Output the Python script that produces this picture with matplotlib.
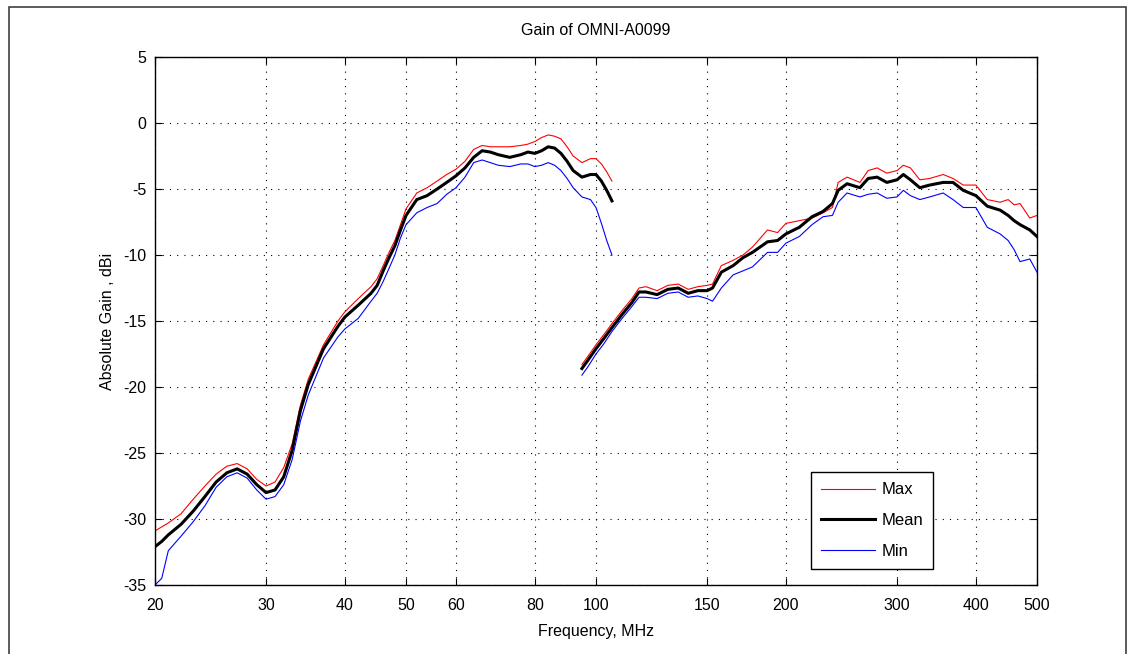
import matplotlib
matplotlib.use("Agg")
import matplotlib.pyplot as plt
from matplotlib.patches import Rectangle
from matplotlib.ticker import FixedLocator, NullLocator

plt.rcParams["font.family"] = ["Liberation Sans", "DejaVu Sans"]
plt.rcParams["axes.unicode_minus"] = False

# lower band (20 - 106 MHz)
freq_lo = [20, 20.5, 21, 22, 23, 24, 25, 26, 27, 28, 29, 30, 31, 32, 33, 34, 35, 37, 39,
           40, 42, 44, 45, 46, 47, 48, 49, 50, 52, 54, 56, 58, 60, 62, 64, 66, 68, 70,
           73, 76, 78, 80, 82, 84, 86, 88, 90, 92, 95, 98, 100, 102, 104, 106]
max_lo = [-30.9, -30.6, -30.3, -29.6, -28.5, -27.5, -26.6, -26.0, -25.8, -26.2, -27.0, -27.5,
          -27.2, -26.1, -24.3, -21.4, -19.4, -16.8, -15.0, -14.3, -13.3, -12.4, -11.8, -10.8,
          -9.8, -8.9, -7.7, -6.5, -5.3, -4.9, -4.4, -3.9, -3.5, -2.9, -2.0, -1.7, -1.8, -1.8,
          -1.8, -1.7, -1.6, -1.4, -1.1, -0.9, -1.0, -1.2, -1.8, -2.5, -3.0, -2.7, -2.7, -3.1,
          -3.7, -4.4]
mean_lo = [-32.1, -31.7, -31.2, -30.4, -29.4, -28.3, -27.2, -26.5, -26.2, -26.6, -27.4, -28.0,
           -27.8, -26.8, -24.8, -21.8, -19.8, -17.1, -15.4, -14.7, -13.8, -12.9, -12.3, -11.2,
           -10.2, -9.3, -8.1, -7.0, -5.8, -5.5, -5.0, -4.5, -4.0, -3.4, -2.6, -2.1, -2.2, -2.4,
           -2.6, -2.4, -2.2, -2.3, -2.1, -1.8, -1.9, -2.3, -2.9, -3.6, -4.1, -3.9, -3.9, -4.4,
           -5.1, -5.9]
min_lo = [-35.0, -34.5, -32.4, -31.3, -30.2, -29.0, -27.6, -26.8, -26.5, -26.9, -27.8, -28.5,
          -28.3, -27.4, -25.5, -22.6, -20.6, -17.8, -16.2, -15.6, -14.8, -13.5, -12.9, -12.0,
          -11.0, -10.0, -8.7, -7.7, -6.8, -6.4, -6.1, -5.4, -4.9, -4.1, -3.0, -2.8, -3.0, -3.2,
          -3.3, -3.1, -3.1, -3.3, -3.2, -3.0, -3.2, -3.6, -4.2, -4.9, -5.6, -5.8, -6.4, -7.6,
          -8.9, -10.0]

# upper band (95 - 500 MHz)
freq_hi = [95, 97, 100, 103, 106, 110, 114, 117, 120, 125, 130, 135, 140, 145, 150, 153, 158,
           165, 171, 177, 187, 194, 200, 210, 220, 229, 237, 242, 250, 262, 270, 279, 289, 300,
           307, 315, 326, 338, 355, 368, 382, 400, 417, 437, 450, 460, 470, 487, 500]
max_hi = [-18.3, -17.7, -16.8, -16.0, -15.2, -14.2, -13.3, -12.5, -12.4, -12.7, -12.3, -12.2,
          -12.6, -12.4, -12.3, -12.2, -10.8, -10.4, -10.0, -9.4, -8.1, -8.3, -7.6, -7.4, -7.2,
          -6.8, -6.4, -4.5, -4.1, -4.5, -3.6, -3.4, -3.8, -3.6, -3.2, -3.4, -4.3, -4.2, -3.9,
          -4.2, -4.7, -4.7, -5.8, -6.0, -5.8, -6.2, -6.1, -7.2, -7.0]
mean_hi = [-18.6, -18.0, -17.1, -16.3, -15.5, -14.5, -13.6, -12.8, -12.8, -13.0, -12.6, -12.5,
           -12.9, -12.7, -12.7, -12.5, -11.3, -10.8, -10.2, -9.8, -9.0, -8.9, -8.4, -7.9, -7.1,
           -6.7, -6.1, -5.1, -4.6, -4.9, -4.2, -4.1, -4.5, -4.3, -3.9, -4.3, -4.9, -4.7, -4.5,
           -4.5, -5.1, -5.5, -6.3, -6.6, -7.0, -7.4, -7.7, -8.1, -8.6]
min_hi = [-19.1, -18.5, -17.5, -16.7, -15.8, -14.8, -13.9, -13.2, -13.2, -13.3, -12.9, -12.8,
          -13.2, -13.1, -13.3, -13.5, -12.5, -11.5, -11.2, -10.9, -9.8, -9.8, -9.1, -8.6, -7.7,
          -7.1, -7.0, -6.0, -5.3, -5.6, -5.4, -5.3, -5.7, -5.6, -5.1, -5.5, -5.8, -5.6, -5.3,
          -5.8, -6.4, -6.4, -7.9, -8.4, -8.9, -9.6, -10.5, -10.3, -11.3]

xticks = [20, 30, 40, 50, 60, 80, 100, 150, 200, 300, 400, 500]
yticks = list(range(-35, 6, 5))

fig = plt.figure(figsize=(11.31, 6.54), dpi=100)
fig.patches.append(Rectangle((0.008, -0.01), 0.988, 1.0, transform=fig.transFigure,
                             fill=False, edgecolor="#404040", lw=1.2))
ax = fig.add_axes([0.137, 0.1055, 0.7799, 0.8073])

ax.plot(freq_lo, max_lo, color="red", lw=0.8, label="Max")
ax.plot(freq_lo, mean_lo, color="black", lw=2.2, label="Mean")
ax.plot(freq_lo, min_lo, color="blue", lw=0.8, label="Min")
ax.plot(freq_hi, max_hi, color="red", lw=0.8)
ax.plot(freq_hi, mean_hi, color="black", lw=2.2)
ax.plot(freq_hi, min_hi, color="blue", lw=0.8)

ax.set_xscale("log")
ax.set_xlim(20, 500)
ax.set_ylim(-35, 5)
ax.xaxis.set_major_locator(FixedLocator(xticks))
ax.xaxis.set_minor_locator(NullLocator())
ax.set_xticklabels([str(t) for t in xticks])
ax.set_yticks(yticks)
ax.tick_params(direction="in", top=True, right=True, length=5, labelsize=11.5)
ax.tick_params(axis="x", pad=9)
ax.tick_params(axis="y", pad=6)
ax.grid(True, color="black", ls=(0, (1, 5.5)), lw=0.8)
for s in ax.spines.values():
    s.set_linewidth(1.0)

ax.set_title("Gain of OMNI-A0099", fontsize=11.5, pad=16)
ax.set_xlabel("Frequency, MHz", fontsize=11.5, labelpad=8)
ax.set_ylabel("Absolute Gain , dBi", fontsize=11.5, labelpad=6)

leg = ax.legend(loc="lower right", bbox_to_anchor=(0.882, 0.03), fancybox=False,
                edgecolor="black", framealpha=1, fontsize=12, borderaxespad=0,
                handlelength=3.2, handletextpad=0.4, labelspacing=0.95, borderpad=0.6)
leg.get_frame().set_linewidth(1.0)

fig.savefig("out.png", dpi=100)
